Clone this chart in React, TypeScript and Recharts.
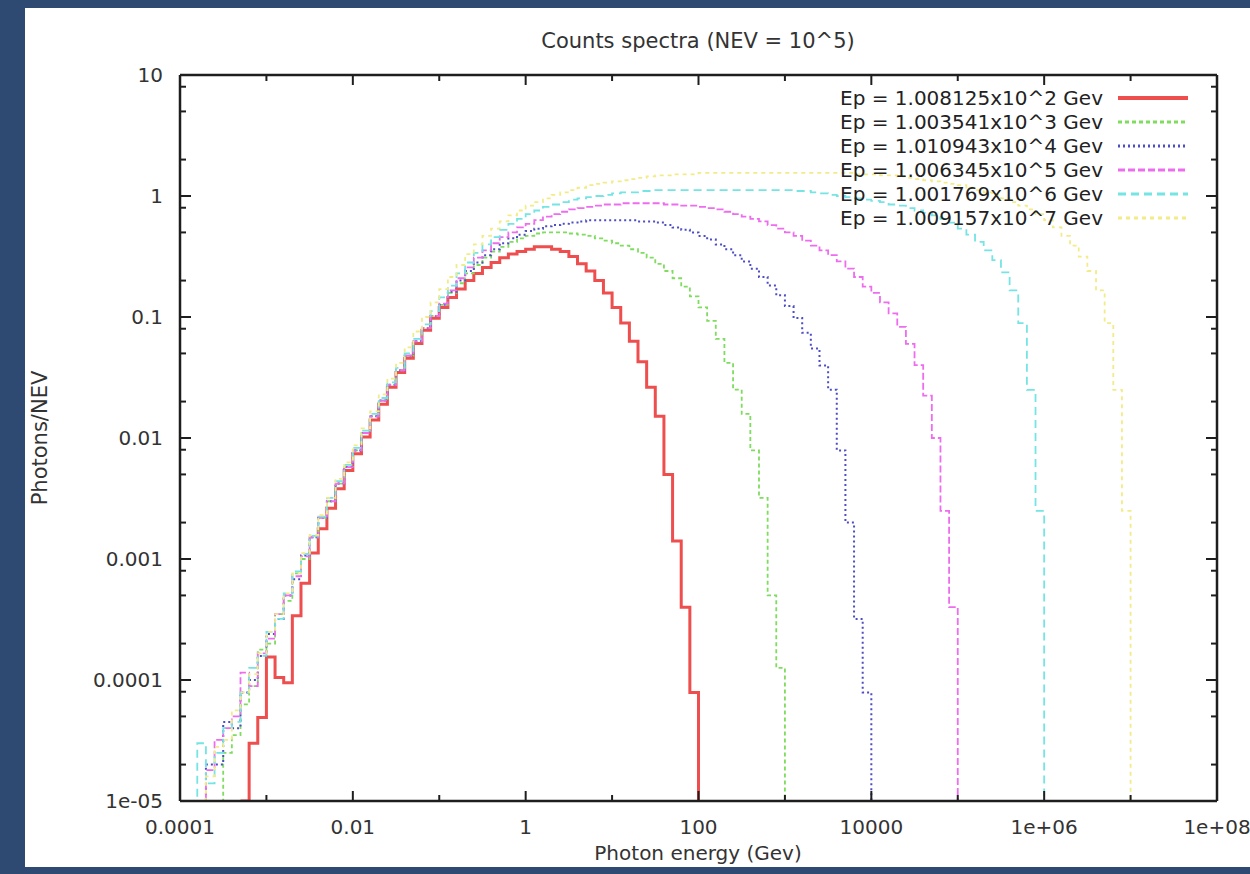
import React from 'react';
import { LineChart, Line, XAxis, YAxis, Legend } from 'recharts';

const FONT = '"DejaVu Sans", "Liberation Sans", sans-serif';
const AXIS = '#1e1e1e';
const FLOOR = 1e-5;

// histogram bin edges: 10 bins per decade
const binMantissas = [1, 1.259, 1.585, 1.995, 2.512, 3.162, 3.981, 5.012, 6.31, 7.943];
const binDecades = [1e-4, 1e-3, 1e-2, 1e-1, 1, 10, 100, 1e3, 1e4, 1e5, 1e6, 1e7];
const lastEdge = 1e8;

const seriesNames = [
  'Ep = 1.008125x10^2 Gev',
  'Ep = 1.003541x10^3 Gev',
  'Ep = 1.010943x10^4 Gev',
  'Ep = 1.006345x10^5 Gev',
  'Ep = 1.001769x10^6 Gev',
  'Ep = 1.009157x10^7 Gev',
];
const seriesColors = ['#ee4e4e', '#7edc5e', '#4d4dc6', '#ee6cee', '#74e4e4', '#f2ec88'];
const seriesDash = ['', '4 3', '2 3', '7 3', '8 5', '4 4'];
const seriesWidth = [3, 1.8, 2, 1.8, 1.8, 1.8];
// index of the first filled bin on the grid
const seriesFirstBin = [8, 5, 3, 3, 2, 3];

const ep1e2 = [
  3.0e-5, 4.9e-5, 1.55e-4, 1.05e-4, 9.5e-5, 3.4e-4, 6.3e-4, 1.12e-3, 1.78e-3, 2.63e-3,
  3.8e-3, 5.4e-3, 7.4e-3, 0.0102, 0.0141, 0.019, 0.0263, 0.0347, 0.0457, 0.0603,
  0.0776, 0.0977, 0.12, 0.145, 0.17, 0.2, 0.229, 0.257, 0.282, 0.309,
  0.331, 0.347, 0.363, 0.38, 0.38, 0.363, 0.347, 0.316, 0.275, 0.24,
  0.2, 0.158, 0.12, 0.089, 0.063, 0.0427, 0.0263, 0.0151, 0.005, 1.41e-3,
  4.0e-4, 7.9e-5,
];
const ep1e3 = [
  2.5e-5, 3.5e-5, 6.3e-5, 8.9e-5, 1.78e-4, 2.0e-4, 3.5e-4, 4.5e-4, 7.6e-4, 1.0e-3,
  1.51e-3, 2.19e-3, 3.0e-3, 4.2e-3, 5.75e-3, 7.9e-3, 0.011, 0.0151, 0.0204, 0.0275,
  0.0363, 0.0479, 0.063, 0.0813, 0.102, 0.126, 0.158, 0.19, 0.229, 0.269,
  0.309, 0.347, 0.38, 0.417, 0.447, 0.468, 0.49, 0.5, 0.5, 0.5,
  0.49, 0.479, 0.468, 0.447, 0.427, 0.407, 0.389, 0.363, 0.339, 0.309,
  0.275, 0.24, 0.209, 0.178, 0.148, 0.12, 0.093, 0.066, 0.0417, 0.0251,
  0.0158, 7.9e-3, 3.2e-3, 5.0e-4, 1.26e-4,
];
const ep1e4 = [
  2.0e-5, 2.0e-5, 4.5e-5, 4.0e-5, 7.9e-5, 1.0e-4, 1.58e-4, 2.4e-4, 3.2e-4, 5.0e-4,
  6.8e-4, 1.07e-3, 1.51e-3, 2.19e-3, 3.0e-3, 4.2e-3, 5.75e-3, 7.9e-3, 0.011, 0.0151,
  0.0204, 0.0275, 0.0363, 0.0479, 0.063, 0.0813, 0.102, 0.126, 0.162, 0.2,
  0.24, 0.282, 0.324, 0.363, 0.407, 0.447, 0.479, 0.513, 0.537, 0.562,
  0.575, 0.589, 0.603, 0.617, 0.63, 0.63, 0.63, 0.63, 0.63, 0.63,
  0.617, 0.617, 0.603, 0.575, 0.55, 0.525, 0.5, 0.468, 0.437, 0.398,
  0.363, 0.324, 0.288, 0.251, 0.214, 0.182, 0.151, 0.123, 0.098, 0.074,
  0.055, 0.0398, 0.0251, 7.9e-3, 2.0e-3, 3.2e-4, 7.9e-5,
];
const ep1e5 = [
  1.8e-5, 3.2e-5, 4.0e-5, 5.0e-5, 1.15e-4, 8.9e-5, 1.66e-4, 2.2e-4, 3.5e-4, 5.0e-4,
  7.2e-4, 1.05e-3, 1.51e-3, 2.19e-3, 3.0e-3, 4.2e-3, 5.75e-3, 7.9e-3, 0.011, 0.0151,
  0.0204, 0.0275, 0.0363, 0.0479, 0.063, 0.0813, 0.102, 0.129, 0.166, 0.209,
  0.257, 0.309, 0.355, 0.407, 0.457, 0.5, 0.55, 0.589, 0.631, 0.676,
  0.708, 0.741, 0.776, 0.794, 0.813, 0.832, 0.851, 0.851, 0.871, 0.871,
  0.871, 0.871, 0.871, 0.851, 0.851, 0.832, 0.832, 0.813, 0.794, 0.776,
  0.741, 0.708, 0.676, 0.646, 0.617, 0.575, 0.537, 0.5, 0.468, 0.427,
  0.389, 0.355, 0.324, 0.288, 0.251, 0.214, 0.178, 0.158, 0.132, 0.107,
  0.083, 0.06, 0.04, 0.0224, 0.01, 2.5e-3, 4.0e-4,
];
const ep1e6 = [
  3.0e-5, 1.4e-5, 2.5e-5, 4.0e-5, 4.5e-5, 7.9e-5, 1.26e-4, 1.58e-4, 2.5e-4, 3.2e-4,
  5.2e-4, 7.9e-4, 1.1e-3, 1.55e-3, 2.24e-3, 3.2e-3, 4.4e-3, 6.0e-3, 8.3e-3, 0.0115,
  0.0158, 0.0214, 0.0288, 0.038, 0.05, 0.066, 0.087, 0.112, 0.145, 0.182,
  0.229, 0.282, 0.339, 0.398, 0.457, 0.525, 0.589, 0.646, 0.708, 0.759,
  0.813, 0.851, 0.891, 0.933, 0.955, 0.977, 1.0, 1.02, 1.05, 1.07,
  1.07, 1.1, 1.1, 1.12, 1.12, 1.12, 1.12, 1.12, 1.12, 1.12,
  1.12, 1.12, 1.12, 1.12, 1.12, 1.12, 1.12, 1.12, 1.12, 1.1,
  1.1, 1.07, 1.05, 1.02, 1.0, 0.977, 0.955, 0.933, 0.912, 0.891,
  0.851, 0.832, 0.794, 0.759, 0.724, 0.692, 0.646, 0.603, 0.537, 0.479,
  0.417, 0.355, 0.295, 0.234, 0.166, 0.089, 0.025, 2.5e-3,
];
const ep1e7 = [
  1.6e-5, 2.8e-5, 3.2e-5, 5.6e-5, 7.9e-5, 1.12e-4, 1.66e-4, 2.5e-4, 3.5e-4, 5.2e-4,
  7.6e-4, 1.12e-3, 1.58e-3, 2.3e-3, 3.2e-3, 4.6e-3, 6.3e-3, 8.7e-3, 0.012, 0.0166,
  0.0229, 0.0309, 0.0417, 0.0562, 0.0759, 0.1, 0.132, 0.17, 0.214, 0.269,
  0.331, 0.398, 0.468, 0.537, 0.617, 0.692, 0.759, 0.832, 0.891, 0.955,
  1.02, 1.07, 1.12, 1.17, 1.23, 1.26, 1.29, 1.32, 1.35, 1.38,
  1.41, 1.45, 1.48, 1.48, 1.51, 1.51, 1.51, 1.55, 1.55, 1.55,
  1.55, 1.55, 1.55, 1.55, 1.55, 1.55, 1.55, 1.55, 1.55, 1.55,
  1.55, 1.55, 1.55, 1.55, 1.55, 1.51, 1.51, 1.51, 1.48, 1.48,
  1.45, 1.41, 1.38, 1.35, 1.32, 1.29, 1.26, 1.23, 1.17, 1.12,
  1.07, 1.02, 0.955, 0.891, 0.832, 0.776, 0.708, 0.631, 0.55, 0.468,
  0.389, 0.316, 0.24, 0.166, 0.089, 0.025, 2.5e-3,
];
const seriesValues = [ep1e2, ep1e3, ep1e4, ep1e5, ep1e6, ep1e7];

const xTicks = [1e-4, 1e-3, 1e-2, 1e-1, 1, 10, 100, 1e3, 1e4, 1e5, 1e6, 1e7, 1e8];
const xLabelValues = [1e-4, 1e-2, 1, 100, 1e4, 1e6, 1e8];
const xLabels = ['0.0001', '0.01', '1', '100', '10000', '1e+06', '1e+08'];
const yLabelValues = [1e-5, 1e-4, 1e-3, 1e-2, 0.1, 1, 10];
const yLabels = ['1e-05', '0.0001', '0.001', '0.01', '0.1', '1', '10'];
const yMinorTicks = [2e-5, 5e-5, 8e-5, 2e-4, 5e-4, 8e-4, 2e-3, 5e-3, 8e-3, 0.02, 0.05, 0.08, 0.2, 0.5, 0.8, 2, 5, 8];
const yTicks = [...yLabelValues, ...yMinorTicks];

const near = (a: number, b: number) => Math.abs(Math.log10(a) - Math.log10(b)) < 1e-6;

const edges = [...binDecades.flatMap((d) => binMantissas.map((m) => m * d)), lastEdge];

const chartData = edges.map((e, i) => {
  const row: Record<string, number | undefined> = { e };
  seriesValues.forEach((vals, s) => {
    const first = seriesFirstBin[s];
    let v: number | undefined;
    if (i === first - 1 || i === first + vals.length) v = FLOOR;
    else if (i >= first && i < first + vals.length) v = vals[i - first];
    row[`s${s}`] = v;
  });
  return row;
});

const labelStyle = { fontFamily: FONT, fontSize: 20, fill: '#333' };

const BottomTick = (props: any) => {
  const { x, y, payload } = props;
  const idx = xLabelValues.findIndex((v) => near(v, payload.value));
  return (
    <g>
      <line x1={x} y1={y} x2={x} y2={y - (idx >= 0 ? 10 : 6)} stroke={AXIS} strokeWidth={2} />
      {idx >= 0 && (
        <text x={x} y={y + 26} textAnchor="middle" dominantBaseline="central" {...labelStyle}>
          {xLabels[idx]}
        </text>
      )}
    </g>
  );
};

const TopTick = (props: any) => {
  const { x, y, payload } = props;
  const major = xLabelValues.some((v) => near(v, payload.value));
  return <line x1={x} y1={y} x2={x} y2={y + (major ? 10 : 6)} stroke={AXIS} strokeWidth={2} />;
};

const LeftTick = (props: any) => {
  const { x, y, payload } = props;
  const idx = yLabelValues.findIndex((v) => near(v, payload.value));
  return (
    <g>
      <line x1={x} y1={y} x2={x + (idx >= 0 ? 11 : 6)} y2={y} stroke={AXIS} strokeWidth={2} />
      {idx >= 0 && (
        <text x={x - 17} y={y} textAnchor="end" dominantBaseline="central" {...labelStyle}>
          {yLabels[idx]}
        </text>
      )}
    </g>
  );
};

const RightTick = (props: any) => {
  const { x, y, payload } = props;
  const major = yLabelValues.some((v) => near(v, payload.value));
  return <line x1={x} y1={y} x2={x - (major ? 11 : 6)} y2={y} stroke={AXIS} strokeWidth={2} />;
};

const renderLegend = () => (
  <div style={{ fontFamily: FONT, fontSize: 20, color: '#222' }}>
    {seriesNames.map((name, i) => (
      <div
        key={name}
        style={{ display: 'flex', justifyContent: 'flex-end', alignItems: 'center', height: 24 }}
      >
        <span style={{ whiteSpace: 'nowrap', lineHeight: '24px' }}>{name}</span>
        <svg width={70} height={10} style={{ marginLeft: 15 }}>
          <line
            x1={0}
            y1={5}
            x2={70}
            y2={5}
            stroke={seriesColors[i]}
            strokeWidth={seriesWidth[i] + 1}
            strokeDasharray={seriesDash[i]}
          />
        </svg>
      </div>
    ))}
  </div>
);

const axisLine = { stroke: AXIS, strokeWidth: 2.5 };

const App = () => {
  return (
    <div style={{ position: 'absolute', left: 0, top: 0, width: 1250, height: 874, background: '#2e4a73', overflow: 'hidden' }}>
      <div style={{ position: 'absolute', left: 25, top: 8, width: 1225, height: 859, background: '#fff', overflow: 'hidden' }}>
        <div style={{ position: 'absolute', left: -25, top: -8, width: 1250, height: 874 }}>
          <div
            style={{
              position: 'absolute', left: 398, top: 28, width: 600, textAlign: 'center',
              fontFamily: FONT, fontSize: 21, color: '#333', lineHeight: '26px',
            }}
          >
            Counts spectra (NEV = 10^5)
          </div>
          <LineChart
            width={1250}
            height={874}
            data={chartData}
            margin={{ top: 65, right: 23, bottom: 43, left: 120 }}
          >
            <XAxis
              dataKey="e"
              type="number"
              scale="log"
              domain={[1e-4, 1e8]}
              allowDataOverflow
              ticks={xTicks}
              interval={0}
              tickSize={0}
              tickMargin={0}
              height={30}
              axisLine={axisLine}
              tickLine={false}
              tick={<BottomTick />}
            />
            <XAxis
              xAxisId="top"
              orientation="top"
              dataKey="e"
              type="number"
              scale="log"
              domain={[1e-4, 1e8]}
              allowDataOverflow
              ticks={xTicks}
              interval={0}
              tickSize={0}
              tickMargin={0}
              height={10}
              axisLine={axisLine}
              tickLine={false}
              tick={<TopTick />}
            />
            <YAxis
              type="number"
              scale="log"
              domain={[1e-5, 10]}
              allowDataOverflow
              ticks={yTicks}
              interval={0}
              tickSize={0}
              tickMargin={0}
              width={60}
              axisLine={axisLine}
              tickLine={false}
              tick={<LeftTick />}
            />
            <YAxis
              yAxisId="right"
              orientation="right"
              type="number"
              scale="log"
              domain={[1e-5, 10]}
              allowDataOverflow
              ticks={yTicks}
              interval={0}
              tickSize={0}
              tickMargin={0}
              width={10}
              axisLine={axisLine}
              tickLine={false}
              tick={<RightTick />}
            />
            <Legend
              layout="vertical"
              align="center"
              verticalAlign="middle"
              content={renderLegend}
              wrapperStyle={{ left: 788, top: 86, width: 400, height: 'auto' }}
            />
            {seriesNames.map((name, s) => (
              <Line
                key={name}
                name={name}
                dataKey={`s${s}`}
                type="stepAfter"
                stroke={seriesColors[s]}
                strokeWidth={seriesWidth[s]}
                strokeDasharray={seriesDash[s] || undefined}
                dot={false}
                activeDot={false}
                isAnimationActive={false}
              />
            ))}
          </LineChart>
          <div
            style={{
              position: 'absolute', left: 398, top: 841, width: 600, textAlign: 'center',
              fontFamily: FONT, fontSize: 20, color: '#333', lineHeight: '24px',
            }}
          >
            Photon energy (Gev)
          </div>
          <div
            style={{
              position: 'absolute', left: -60, top: 425, width: 200, textAlign: 'center',
              fontFamily: FONT, fontSize: 21, color: '#333', lineHeight: '26px',
              transform: 'rotate(-90deg)',
            }}
          >
            Photons/NEV
          </div>
        </div>
      </div>
    </div>
  );
};

export default App;
